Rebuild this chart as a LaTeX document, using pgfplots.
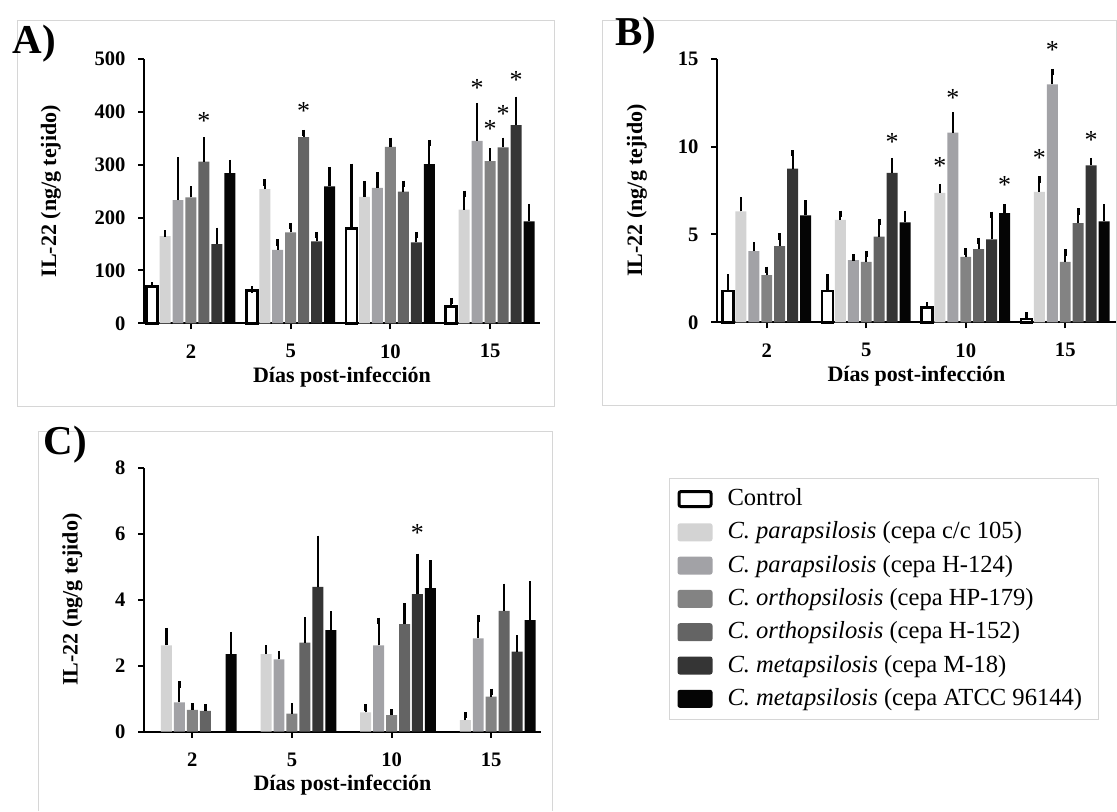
\documentclass[border=0pt]{standalone}
\usepackage{fontspec}
\setmainfont{Liberation Serif}
\usepackage{pgfplots}
\usepackage{pgfplotstable}
\pgfplotsset{compat=1.18}
\definecolor{ga}{HTML}{D3D3D3}
\definecolor{gb}{HTML}{A2A2A6}
\definecolor{gc}{HTML}{838383}
\definecolor{gd}{HTML}{646464}
\definecolor{ge}{HTML}{353535}
\definecolor{gf}{HTML}{050505}
\definecolor{framegray}{HTML}{D6D6D6}

\pgfplotstableread{
g c0 e0 c1 e1 c2 e2 c3 e3 c4 e4 c5 e5 c6 e6
0 70 2 165 5 233 75 238 15 306 40 150 25 284 19
1 62 2 254 12 139 14 172 12 352 8 155 12 259 31
2 180 116 239 24 256 24 334 11 249 15 153 14 301 40
3 32 10 215 30 345 66 307 18 333 12 375 48 193 27
}\tabA
\pgfplotstableread{
g c0 e0 c1 e1 c2 e2 c3 e3 c4 e4 c5 e5 c6 e6
0 1.78 0.76 6.31 0.61 4.05 0.31 2.68 0.30 4.34 0.54 8.74 0.88 6.08 0.67
1 1.78 0.76 5.83 0.35 3.54 0.15 3.44 0.44 4.88 0.82 8.51 0.67 5.68 0.48
2 0.86 0.10 7.36 0.33 10.80 0.96 3.73 0.30 4.17 0.46 4.72 1.40 6.21 0.33
3 0.19 0.21 7.42 0.71 13.54 0.70 3.44 0.54 5.64 0.67 8.93 0.25 5.74 0.80
}\tabB
\pgfplotstableread{
g c1 e1 c2 e2 c3 e3 c4 e4 c5 e5 c6 e6
0 2.62 0.43 0.89 0.54 0.66 0.10 0.63 0.10 nan nan 2.35 0.58
1 2.35 0.17 2.19 0.16 0.55 0.21 2.70 0.68 4.39 1.46 3.08 0.48
2 0.59 0.14 2.62 0.74 0.50 0.09 3.26 0.54 4.17 1.13 4.35 0.75
3 0.35 0.15 2.83 0.60 1.06 0.15 3.66 0.73 2.43 0.40 3.38 1.08
}\tabC

\tikzset{starlbl/.style={font=\fontsize{13}{13}\selectfont, inner sep=0pt, anchor=center, yshift=-2pt}}
\pgfplotsset{
  panel/.style={
    scale only axis, clip=false,
    ybar,
    every axis plot post/.append style={bar shift=0pt, bar width=0.11},
    axis x line*=bottom, axis y line*=left,
    axis line style={line width=1pt, -, black},
    tick align=outside, major tick length=3pt,
    tick style={line width=1pt, black},
    xtick={0,1,2,3}, xticklabels={2,5,10,15},
    minor tick num=0,
    /pgf/number format/assume math mode=true,
    ticklabel style={font=\bfseries\fontsize{10.3}{12}\selectfont},
    xticklabel style={yshift=-4pt},
    yticklabel style={xshift=-2.7pt},
    label style={font=\bfseries\fontsize{11}{13}\selectfont},
    xlabel={Días post-infección},
    ylabel={IL-22 (ng/g tejido)},
    xlabel style={at={(axis description cs:0.5,0)}, anchor=center, yshift=-26.75pt},
    ymin=0,
  },
  sw/.style={legend image code/.code={\path[##1, draw=none, rounded corners=1.2pt] (0pt,-4.5pt) rectangle (17.5pt,4.5pt);}},
  swc/.style={legend image code/.code={\draw[draw=black, line width=1.5pt, fill=white, rounded corners=1pt] (0.75pt,-3.75pt) rectangle (16.75pt,3.75pt);}},
  errb/.style={error bars/.cd, y dir=plus, y explicit,
    error bar style={line width=1.1pt, black},
    error mark options={line width=1.3pt, black, mark size=1.6pt}},
  sctrl/.style={draw=black, line width=1.4pt, fill=white, bar width=0.08},
}

\begin{document}
\begin{tikzpicture}
\useasboundingbox (0,0) rectangle (558.5pt,405.5pt);
% panel frames
\draw[framegray, line width=0.5pt] (8.5pt,202.5pt) rectangle (277pt,395pt);
\draw[framegray, line width=0.5pt] (301pt,203pt) rectangle (558pt,395pt);
\draw[framegray, line width=0.5pt] (19pt,0pt) -- (19pt,190pt) -- (276pt,190pt) -- (276pt,0pt);
% panel letters
\node[anchor=base west, font=\bfseries\fontsize{20.5}{24}\selectfont, inner sep=0pt] at (6pt,378.75pt) {A)};
\node[anchor=base west, font=\bfseries\fontsize{20.5}{24}\selectfont, inner sep=0pt] at (307.5pt,383pt) {B)};
\node[anchor=base west, font=\bfseries\fontsize{20.5}{24}\selectfont, inner sep=0pt] at (21.7pt,178.5pt) {C)};

% ---------------- A
\begin{axis}[panel, at={(72pt,243.85pt)}, anchor=south west, width=198pt, height=132.15pt,
  xmin=-0.471, xmax=3.50, ymax=500, ytick={0,100,200,300,400,500},
  ylabel style={at={(axis description cs:-0.235,0.5)}, anchor=center}]
\addplot[sctrl, errb] table[x expr=\thisrow{g}-0.39, y=c0, y error plus=e0] {\tabA};
\addplot[fill=ga, draw=none, errb] table[x expr=\thisrow{g}-0.26, y=c1, y error plus=e1] {\tabA};
\addplot[fill=gb, draw=none, errb] table[x expr=\thisrow{g}-0.13, y=c2, y error plus=e2] {\tabA};
\addplot[fill=gc, draw=none, errb] table[x expr=\thisrow{g}, y=c3, y error plus=e3] {\tabA};
\addplot[fill=gd, draw=none, errb] table[x expr=\thisrow{g}+0.13, y=c4, y error plus=e4] {\tabA};
\addplot[fill=ge, draw=none, errb] table[x expr=\thisrow{g}+0.26, y=c5, y error plus=e5] {\tabA};
\addplot[fill=gf, draw=none, errb] table[x expr=\thisrow{g}+0.39, y=c6, y error plus=e6] {\tabA};
\node[starlbl] at (axis cs:0.13,390) {*};
\node[starlbl] at (axis cs:1.13,410) {*};
\node[starlbl] at (axis cs:2.87,452) {*};
\node[starlbl] at (axis cs:3.00,376) {*};
\node[starlbl] at (axis cs:3.13,404) {*};
\node[starlbl] at (axis cs:3.26,467) {*};
\end{axis}

% ---------------- B
\begin{axis}[panel, at={(358.5pt,244.35pt)}, anchor=south west, width=199.5pt, height=131.8pt,
  xmin=-0.5, xmax=3.51, ymax=15, ytick={0,5,10,15},
  ylabel style={at={(axis description cs:-0.2005,0.5)}, anchor=center}]
\addplot[sctrl, errb] table[x expr=\thisrow{g}-0.39, y=c0, y error plus=e0] {\tabB};
\addplot[fill=ga, draw=none, errb] table[x expr=\thisrow{g}-0.26, y=c1, y error plus=e1] {\tabB};
\addplot[fill=gb, draw=none, errb] table[x expr=\thisrow{g}-0.13, y=c2, y error plus=e2] {\tabB};
\addplot[fill=gc, draw=none, errb] table[x expr=\thisrow{g}, y=c3, y error plus=e3] {\tabB};
\addplot[fill=gd, draw=none, errb] table[x expr=\thisrow{g}+0.13, y=c4, y error plus=e4] {\tabB};
\addplot[fill=ge, draw=none, errb] table[x expr=\thisrow{g}+0.26, y=c5, y error plus=e5] {\tabB};
\addplot[fill=gf, draw=none, errb] table[x expr=\thisrow{g}+0.39, y=c6, y error plus=e6] {\tabB};
\node[starlbl] at (axis cs:1.26,10.48) {*};
\node[starlbl] at (axis cs:1.74,9.12) {*};
\node[starlbl] at (axis cs:1.87,13.0) {*};
\node[starlbl] at (axis cs:2.39,8.03) {*};
\node[starlbl] at (axis cs:2.74,9.6) {*};
\node[starlbl] at (axis cs:2.87,15.74) {*};
\node[starlbl] at (axis cs:3.26,10.61) {*};
\end{axis}

% ---------------- C
\begin{axis}[panel, at={(72pt,39.65pt)}, anchor=south west, width=198.5pt, height=131.95pt,
  xmin=-0.485, xmax=3.50, ymax=8, ytick={0,2,4,6,8},
  ylabel style={at={(axis description cs:-0.18,0.5)}, anchor=center},
  legend style={at={(axis description cs:1.3224,0.9613)}, anchor=north west,
    draw=framegray, line width=0.5pt, inner xsep=4pt, inner ysep=4.5pt,
    font=\fontsize{12.3}{14}\selectfont, row sep=5.15pt, column sep=7.5pt,
    nodes={inner sep=0pt, text height=9pt, text depth=2.5pt}},
  legend cell align=left]
\addlegendimage{swc}
\addlegendentry{Control}
\addlegendimage{sw, fill=ga}
\addlegendentry{\textit{C. parapsilosis} (cepa c/c 105)}
\addlegendimage{sw, fill=gb}
\addlegendentry{\textit{C. parapsilosis} (cepa H-124)}
\addlegendimage{sw, fill=gc}
\addlegendentry{\textit{C. orthopsilosis} (cepa HP-179)}
\addlegendimage{sw, fill=gd}
\addlegendentry{\textit{C. orthopsilosis} (cepa H-152)}
\addlegendimage{sw, fill=ge}
\addlegendentry{\textit{C. metapsilosis} (cepa M-18)}
\addlegendimage{sw, fill=gf}
\addlegendentry{\textit{C. metapsilosis} (cepa ATCC 96144)\hspace*{4pt}}
\addplot[forget plot, fill=ga, draw=none, errb] table[x expr=\thisrow{g}-0.26, y=c1, y error plus=e1] {\tabC};
\addplot[forget plot, fill=gb, draw=none, errb] table[x expr=\thisrow{g}-0.13, y=c2, y error plus=e2] {\tabC};
\addplot[forget plot, fill=gc, draw=none, errb] table[x expr=\thisrow{g}, y=c3, y error plus=e3] {\tabC};
\addplot[forget plot, fill=gd, draw=none, errb] table[x expr=\thisrow{g}+0.13, y=c4, y error plus=e4] {\tabC};
\addplot[forget plot, fill=ge, draw=none, errb] table[x expr=\thisrow{g}+0.26, y=c5, y error plus=e5] {\tabC};
\addplot[forget plot, fill=gf, draw=none, errb] table[x expr=\thisrow{g}+0.39, y=c6, y error plus=e6] {\tabC};
\node[starlbl] at (axis cs:2.26,6.15) {*};
\end{axis}
\end{tikzpicture}
\end{document}
